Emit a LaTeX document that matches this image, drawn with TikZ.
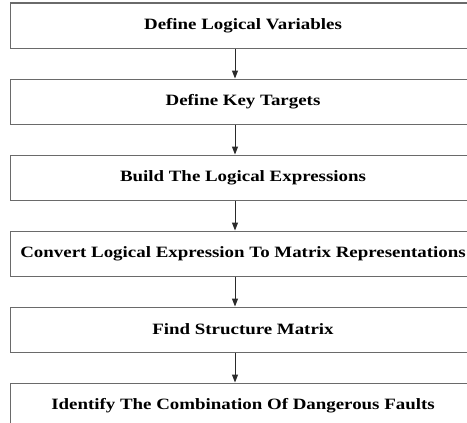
\documentclass[tikz,border=0pt]{standalone}
\usepackage{fontspec}
\setmainfont{Liberation Serif}
\usepackage{graphicx}
\usepackage{tikz}
\usetikzlibrary{arrows.meta,positioning}
\definecolor{boxline}{HTML}{6A6A6A}
\definecolor{arrowcol}{HTML}{2A2A2A}
\newcommand{\widetxt}[1]{\raisebox{-1.5pt}{\scalebox{1.26}[1.05]{#1}}}

\begin{document}
\begin{tikzpicture}[
    x=0.5pt, y=-0.5pt,
    node distance=15pt,
    stepbox/.style={rectangle, draw=boxline, line width=0.5pt, minimum width=233pt,
                    minimum height=22.5pt, inner sep=0pt, align=center,
                    font=\fontsize{7.5}{9}\selectfont\bfseries},
    arrow/.style={-{Triangle[length=4pt, width=3pt]}, line width=0.5pt, color=arrowcol},
]
\useasboundingbox (0,0) rectangle (467,423);
\clip (0,0) rectangle (467,423);

% ── Steps ──────────────────────────────────────────────
\node[stepbox] (vars) at (243,25.5) {\widetxt{Define Logical Variables}};
\node[stepbox, below=of vars]    (targets) {\widetxt{Define Key Targets}};
\node[stepbox, below=of targets] (exprs)   {\widetxt{Build The Logical Expressions}};
\node[stepbox, below=of exprs]   (convert) {\widetxt{Convert Logical Expression To Matrix Representations}};
\node[stepbox, below=of convert] (struct)  {\widetxt{Find Structure Matrix}};
\node[stepbox, below=of struct]  (faults)  {\widetxt{Identify The Combination Of Dangerous Faults}};

% ── Connectors (slightly left of centre) ───────────────
\coordinate (axis) at (235,0);
\draw[arrow] (vars.south -| axis)    -- (targets.north -| axis);
\draw[arrow] (targets.south -| axis) -- (exprs.north -| axis);
\draw[arrow] (exprs.south -| axis)   -- (convert.north -| axis);
\draw[arrow] (convert.south -| axis) -- (struct.north -| axis);
\draw[arrow] (struct.south -| axis)  -- (faults.north -| axis);

\end{tikzpicture}
\end{document}
